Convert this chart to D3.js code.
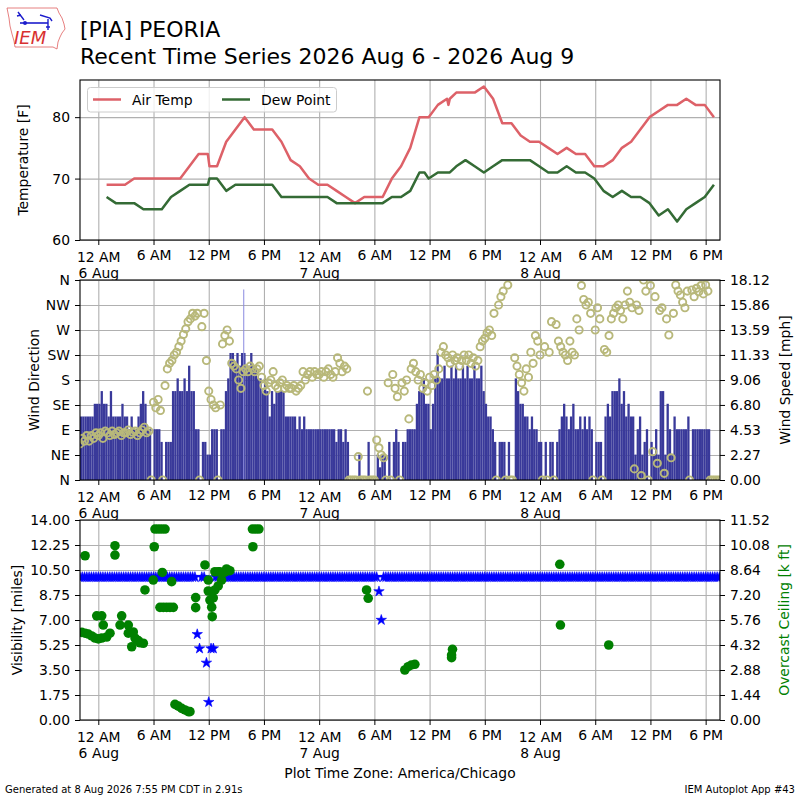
<!DOCTYPE html>
<html>
<head>
<meta charset="utf-8">
<script src="https://cdn.jsdelivr.net/npm/d3@7/dist/d3.min.js"></script>
<style>
  body { margin: 0; background: #fff; }
  svg text { font-family: "DejaVu Sans", sans-serif; }
</style>
</head>
<body>
<svg id="chart" width="800" height="800"></svg>
<script>
// all times are hours after 6 Aug 2026 00:00 CDT

// hourly METAR obs at :54, plus a few specials
const metarHours = d3.range(0.9, 67, 1);
const airTemp = [69, 69, 69, 70, 70, 70, 70, 70, 70, 72, 74, 74, 72, 76, 78, 80, 78, 78, 78, 76, 73, 72, 70, 69,
                 69, 68, 67, 66, 67, 67, 67, 70, 72, 75, 80, 80, 82, 83, 84, 84, 84, 85, 83, 79, 79, 77, 76, 76,
                 75, 74, 75, 74, 74, 72, 72, 73, 75, 76, 78, 80, 81, 82, 82, 83, 82, 82, 80];
const dewPoint = [67, 66, 66, 66, 65, 65, 65, 67, 68, 69, 69, 69, 70, 68, 69, 69, 69, 69, 69, 67, 67, 67, 67, 67,
                  67, 66, 66, 66, 66, 66, 66, 67, 67, 68, 71, 70, 71, 71, 72, 73, 72, 71, 72, 73, 73, 73, 73, 72,
                  71, 71, 72, 71, 71, 70, 68, 67, 68, 67, 67, 66, 64, 65, 63, 65, 66, 67, 69];
const specialHours = [12.08, 35.45, 38.05, 38.2];
const specialTemp = [72, 80, 82, 83];
const specialDew = [70, 71, 71, 71];

// ASOS wind, 15 minute samples starting 5 Aug 22:00 (one row per hour)
const windStart = -2;
const windStep = 0.25;
const windSpeedKt = [
  5, 5, 5, 5,   5, 5, 6, 6,   6, 7, 6, 6,   5, 7, 5, 5,   5, 5, 6, 5,   5, 4, 5, 4,   // 22 - 03
  4, 5, 6, 7,   6, 4, 4, 0,   4, 4, 4, 3,   0, 3, 3, 3,   7, 7, 8, 7,   7, 8, 7, 9,   // 04 - 09
  7, 7, 4, 4,   0, 3, 3, 2,   2, 4, 4, 4,   0, 4, 4, 7,   8, 10, 10, 9, 10, 9, 10, 10, // 10 - 15
  9, 9, 10, 9,  9, 8, 8, 7,   8, 7, 5, 7,   6, 7, 7, 7,   7, 5, 5, 5,   5, 5, 4, 5,   // 16 - 21
  4, 5, 4, 4,   4, 4, 4, 4,   4, 4, 4, 4,   4, 4, 4, 3,   4, 4, 3, 4,   3, 0, 0, 0,   // 22 - 03
  0, 2, 0, 0,   0, 3, 0, 0,   0, 2, 1, 2,   2, 0, 3, 0,   3, 4, 3, 0,   3, 3, 4, 4,   // 04 - 09
  4, 4, 6, 7,   7, 8, 6, 6,   4, 6, 8, 10,  8, 8, 9, 8,   8, 9, 8, 9,   8, 8, 9, 8,   // 10 - 15
  9, 8, 8, 9,   8, 8, 9, 7,   6, 5, 5, 4,   3, 0, 3, 3,   3, 0, 3, 0,   0, 8, 7, 6,   // 16 - 21
  6, 5, 5, 4,   5, 4, 4, 3,   3, 0, 3, 0,   3, 3, 0, 3,   4, 5, 6, 5,   4, 5, 6, 4,   // 22 - 03
  4, 5, 4, 5,   4, 5, 4, 0,   3, 3, 3, 0,   5, 6, 5, 7,   7, 7, 8, 6,   7, 5, 6, 5,   // 04 - 09
  5, 2, 4, 5,   2, 3, 4, 0,   3, 2, 4, 2,   7, 7, 2, 6,   4, 2, 5, 4,   4, 4, 4, 4,   // 10 - 15
  5, 0, 4, 4,   4, 4, 4, 4,   4, 4, 0, 0,   0, 0, 0, null                              // 16 - 19
];
// single one-minute peak [hour, kt]
const peakWind = [[15.75, 15]];
const windDir = [
  65, 75, 70, 80,      70, 80, 75, 85,      80, 85, 75, 88,      85, 80, 88, 82,      85, 88, 80, 85,      85, 90, 82, 86,
  88, 80, 85, 90,      95, 85, 88, 0,       140, 130, 145, 125,  0, 170, 200, 210,    215, 225, 230, 240,  250, 262, 272, 285,
  290, 300, 295, 300,  0, 276, 300, 215,    160, 145, 135, 130,  0, 135, 245, 260,    270, 250, 210, 205,  200, 180, 165, 195,
  200, 195, 205, 200,  195, 200, 205, 185,  170, 160, 175, 180,  195, 170, 165, 175,  180, 165, 170, 165,  165, 170, 160, 165,
  170, 195, 180, 190,  195, 185, 195, 190,  190, 195, 185, 195,  200, 190, 185, 195,  220, 210, 195, 205,  200, 0, 0, 0,
  0, 42, 0, 0,         0, 160, 0, 0,        0, 72, 58, 45,       40, 0, 175, 0,       190, 165, 150, 0,    175, 160, 180, 110,
  200, 210, 195, 180,  190, 165, 175, 160,  185, 170, 190, 180,  200, 230, 240, 225,  220, 210, 225, 215,  220, 205, 215, 225,
  215, 225, 210, 220,  205, 215, 240, 250,  255, 265, 270, 260,  300, 0, 315, 330,    340, 0, 351, 0,      0, 220, 205, 190,
  175, 160, 200, 185,  230, 210, 260, 250,  225, 0, 240, 0,      230, 285, 0, 280,    250, 240, 230, 225,  215, 250, 230, 225,
  290, 270, 350, 325,  315, 320, 300, 0,    270, 310, 290, 0,    235, 230, 260, 290,  300, 310, 315, 305,  290, 315, 340, 320,
  310, 20, 315, 305,   8, 360, 340, 0,      350, 51, 330, 30,    305, 310, 12, 290,   261, 40, 300, 351,   340, 333, 320, 310,
  340, 0, 342, 330,    345, 339, 350, 335,  351, 340, 0, 0,      0, 0, 0, null
];

// visibility [miles], same 15 minute samples
const visMiles = [
  10, 10, 10, 10,  10, 10, 10, 10,  10, 10, 10, 10,  10, 10, 10, 10,  10, 10, 10, 10,  10, 10, 10, 10,
  10, 10, 10, 10,  10, 10, 10, 10,  10, 10, 10, 10,  10, 10, 10, 10,  10, 10, 10, 10,  10, 10, 10, 10,
  10, 10, 10, 6,   5, 10, 10, 4,    1.25, 5, 5, 10,  10, 10, 10, 10,  10, 10, 10, 10,  10, 10, 10, 10,
  10, 10, 10, 10,  10, 10, 10, 10,  10, 10, 10, 10,  10, 10, 10, 10,  10, 10, 10, 10,  10, 10, 10, 10,
  10, 10, 10, 10,  10, 10, 10, 10,  10, 10, 10, 10,  10, 10, 10, 10,  10, 10, 10, 10,  10, 10, 10, 10,
  10, 10, 10, 10,  10, 10, 10, 10,  10, 10, 9, 7,    10, 10, 10, 10,  10, 10, 10, 10,  10, 10, 10, 10,
  10, 10, 10, 10,  10, 10, 10, 10,  10, 10, 10, 10,  10, 10, 10, 10,  10, 10, 10, 10,  10, 10, 10, 10,
  10, 10, 10, 10,  10, 10, 10, 10,  10, 10, 10, 10,  10, 10, 10, 10,  10, 10, 10, 10,  10, 10, 10, 10,
  10, 10, 10, 10,  10, 10, 10, 10,  10, 10, 10, 10,  10, 10, 10, 10,  10, 10, 10, 10,  10, 10, 10, 10,
  10, 10, 10, 10,  10, 10, 10, 10,  10, 10, 10, 10,  10, 10, 10, 10,  10, 10, 10, 10,  10, 10, 10, 10,
  10, 10, 10, 10,  10, 10, 10, 10,  10, 10, 10, 10,  10, 10, 10, 10,  10, 10, 10, 10,  10, 10, 10, 10,
  10, 10, 10, 10,  10, 10, 10, 10,  10, 10, 10, 10,  10, 10, 10, null
];

// overcast ceiling reports [hour, k ft]
const ceilingObs = [
  [-1.8, 5.05], [-1.44, 9.46], [-1.44, 5.0], [-1.09, 4.95], [-0.72, 4.84], [-0.36, 4.72], [-0.17, 6.0], [0, 4.67],
  [0.37, 6.0], [0.37, 4.72], [0.54, 5.47], [0.91, 4.78], [1.27, 5.0], [1.81, 10.04], [1.81, 9.5], [2.36, 5.47],
  [2.54, 6.0], [3.26, 5.47], [3.26, 5.0], [3.63, 4.22], [3.8, 5.07], [3.99, 4.72], [4.15, 4.61], [4.34, 4.57],
  [4.53, 4.45], [4.89, 4.42], [5.07, 7.49], [5.97, 8.06], [6.08, 9.98], [6.16, 11.0], [6.52, 11.0], [6.88, 11.0],
  [7.25, 11.0], [6.95, 8.5], [6.7, 6.49], [7.06, 6.49], [7.43, 6.49], [7.79, 6.49], [8.15, 6.49], [7.97, 7.97],
  [8.33, 0.9], [8.69, 0.8], [9.06, 0.67], [9.42, 0.58], [9.78, 0.48], [9.96, 0.48], [10.58, 7.05], [10.58, 6.47],
  [11.59, 8.93], [11.95, 8.06], [11.95, 7.43], [12.13, 6.91], [12.32, 6.5], [12.38, 5.95], [12.49, 7.03], [12.67, 7.49],
  [12.67, 8.54], [13.03, 7.72], [13.03, 8.54], [13.2, 8.54], [13.4, 8.06], [13.76, 8.52], [13.94, 8.7], [14.3, 8.6],
  [16.75, 11.0], [17.1, 11.0], [17.45, 11.0], [16.8, 9.98],
  [29.15, 7.49], [29.33, 7.01], [33.31, 2.88], [33.67, 3.07], [34.04, 3.17], [34.4, 3.21],
  [38.39, 3.59], [38.39, 3.74], [38.49, 4.07], [50.15, 8.97], [50.22, 5.47], [55.47, 4.32]
];

// axis ticks
const xTickHours = [0, 6, 12, 18, 24, 30, 36, 42, 48, 54, 60, 66];
const xTickLabels = ["12 AM", "6 AM", "12 PM", "6 PM", "12 AM", "6 AM", "12 PM", "6 PM", "12 AM", "6 AM", "12 PM", "6 PM"];
const xTickDays = ["6 Aug", "", "", "", "7 Aug", "", "", "", "8 Aug", "", "", ""];
const tempTicks = [60, 70, 80];
const dirTicks = [0, 45, 90, 135, 180, 225, 270, 315, 360];
const dirLabels = ["N", "NE", "E", "SE", "S", "SW", "W", "NW", "N"];
const speedTicks = [0.00, 2.27, 4.53, 6.80, 9.06, 11.33, 13.59, 15.86, 18.12];
const visTicks = [0.00, 1.75, 3.50, 5.25, 7.00, 8.75, 10.50, 12.25, 14.00];
const ceilTicks = [0.00, 1.44, 2.88, 4.32, 5.76, 7.20, 8.64, 10.08, 11.52];

// ---- drawing ----
const svg = d3.select("#chart");
const FONT = 13.9;
const x = d3.scaleLinear().domain([-1.99, 67.56]).range([80, 720]);
const panels = [{ top: 80, bottom: 240 }, { top: 280, bottom: 480 }, { top: 520, bottom: 720 }];

const yTemp = d3.scaleLinear().domain([60, 86.05]).range([240, 80]);
const yDir = d3.scaleLinear().domain([0, 360]).range([480, 280]);
const ySpeed = d3.scaleLinear().domain([0, 18.12]).range([480, 280]);
const yVis = d3.scaleLinear().domain([0, 14]).range([720, 520]);
const yCeil = d3.scaleLinear().domain([0, 11.52]).range([720, 520]);
const KT2MPH = 1.15078;

const defs = svg.append("defs");
panels.forEach((p, i) => {
  defs.append("clipPath").attr("id", "clip" + i)
    .append("rect").attr("x", 80).attr("y", p.top).attr("width", 640).attr("height", p.bottom - p.top);
});

function styleAxis(g) {
  g.attr("font-size", FONT).attr("font-family", "DejaVu Sans");
  g.select(".domain").remove();
  g.selectAll(".tick line").attr("stroke", "#000").attr("stroke-width", 1);
  g.selectAll(".tick text").attr("fill", "#000");
}

function drawGrid(p, yScale, yTicks) {
  const h = p.bottom - p.top;
  const gx = svg.append("g").attr("transform", `translate(0,${p.bottom})`)
    .call(d3.axisBottom(x).tickValues(xTickHours).tickSize(-h).tickFormat(""));
  const gy = svg.append("g").attr("transform", "translate(80,0)")
    .call(d3.axisLeft(yScale).tickValues(yTicks).tickSize(-640).tickFormat(""));
  [gx, gy].forEach(g => {
    g.select(".domain").remove();
    g.selectAll(".tick line").attr("stroke", "#b0b0b0").attr("stroke-width", 1.1);
  });
}

function drawXAxis(p) {
  const g = svg.append("g").attr("transform", `translate(0,${p.bottom})`)
    .call(d3.axisBottom(x).tickValues(xTickHours).tickSize(5).tickPadding(5).tickFormat((d, i) => xTickLabels[i]));
  styleAxis(g);
  g.selectAll(".tick text").each(function (d, i) {
    if (!xTickDays[i]) return;
    const t = d3.select(this).text(null).attr("dy", null);
    t.append("tspan").attr("x", 0).attr("dy", 12).text(xTickLabels[i]);
    t.append("tspan").attr("x", 0).attr("dy", 15.5).text(xTickDays[i]);
  });
}

function drawYAxis(scale, ticks, fmt, side) {
  const axis = side === "left" ? d3.axisLeft(scale) : d3.axisRight(scale);
  const g = svg.append("g").attr("transform", `translate(${side === "left" ? 80 : 720},0)`)
    .call(axis.tickValues(ticks).tickSize(5).tickPadding(5).tickFormat(fmt));
  styleAxis(g);
}

function frame(p) {
  svg.append("rect").attr("x", 80).attr("y", p.top).attr("width", 640).attr("height", p.bottom - p.top)
    .attr("fill", "none").attr("stroke", "#000").attr("stroke-width", 1.1);
}

function yLabel(text, cx, cy, color) {
  svg.append("text").attr("transform", `translate(${cx},${cy}) rotate(-90)`)
    .attr("text-anchor", "middle").attr("dominant-baseline", "central")
    .attr("font-size", FONT).attr("fill", color || "#000").text(text);
}

// panel 1: temperature
const p1 = panels[0];
drawGrid(p1, yTemp, tempTicks);
const obs = metarHours.map((h, i) => ({ h, t: airTemp[i], d: dewPoint[i] }))
  .concat(specialHours.map((h, i) => ({ h, t: specialTemp[i], d: specialDew[i] })))
  .sort((a, b) => a.h - b.h);
const tempG = svg.append("g").attr("clip-path", "url(#clip0)");
tempG.append("path").datum(obs)
  .attr("d", d3.line().x(d => x(d.h)).y(d => yTemp(d.t)))
  .attr("fill", "none").attr("stroke", "#dd6168").attr("stroke-width", 2.5).attr("stroke-linejoin", "round");
tempG.append("path").datum(obs)
  .attr("d", d3.line().x(d => x(d.h)).y(d => yTemp(d.d)))
  .attr("fill", "none").attr("stroke", "#346b35").attr("stroke-width", 2.5).attr("stroke-linejoin", "round");
frame(p1);
drawXAxis(p1);
drawYAxis(yTemp, tempTicks, d => d, "left");
yLabel("Temperature [F]", 23, 160);

// legend
const leg = svg.append("g");
leg.append("rect").attr("x", 87.5).attr("y", 87.5).attr("width", 249).attr("height", 24.5).attr("rx", 3)
  .attr("fill", "#fff").attr("fill-opacity", 0.8).attr("stroke", "#cccccc");
[["Air Temp", "#dd6168", 93], ["Dew Point", "#346b35", 222]].forEach(([name, color, lx]) => {
  leg.append("line").attr("x1", lx).attr("x2", lx + 28).attr("y1", 99.5).attr("y2", 99.5)
    .attr("stroke", color).attr("stroke-width", 2.5);
  leg.append("text").attr("x", lx + 39).attr("y", 99.5).attr("dominant-baseline", "central")
    .attr("font-size", FONT).text(name);
});

// panel 2: wind
const p2 = panels[1];
drawGrid(p2, yDir, dirTicks);
const wind = windSpeedKt.map((s, i) => ({ h: windStart + i * windStep, s, d: windDir[i] }));
const barW = x(windStep) - x(0);
const windG = svg.append("g").attr("clip-path", "url(#clip1)");
windG.selectAll("rect.spd").data(wind.filter(d => d.s)).join("rect")
  .attr("class", "spd")
  .attr("x", d => x(d.h))
  .attr("y", d => ySpeed(d.s * KT2MPH))
  .attr("width", barW)
  .attr("height", d => 480 - ySpeed(d.s * KT2MPH))
  .attr("fill", "#39399a");
windG.selectAll("rect.peak").data(peakWind).join("rect")
  .attr("class", "peak")
  .attr("x", d => x(d[0]))
  .attr("y", d => ySpeed(d[1] * KT2MPH))
  .attr("width", 1)
  .attr("height", d => 480 - ySpeed(d[1] * KT2MPH))
  .attr("fill", "#8a8ae0");
windG.selectAll("circle.dir").data(wind.filter(d => d.d !== null)).join("circle")
  .attr("class", "dir")
  .attr("cx", d => x(d.h))
  .attr("cy", d => yDir(d.d))
  .attr("r", 3.6)
  .attr("fill", "none").attr("stroke", "#b8b87a").attr("stroke-width", 1.9);
frame(p2);
drawXAxis(p2);
drawYAxis(yDir, dirTicks, (d, i) => dirLabels[i], "left");
drawYAxis(ySpeed, speedTicks, d => d.toFixed(2), "right");
yLabel("Wind Direction", 34, 380);
yLabel("Wind Speed [mph]", 785, 380);

// panel 3: visibility and ceiling
const p3 = panels[2];
drawGrid(p3, yVis, visTicks);
const visG = svg.append("g").attr("clip-path", "url(#clip2)");
const star = d3.symbol(d3.symbolStar, 34);
visG.selectAll("path.vis").data(visMiles.map((v, i) => ({ h: windStart + i * windStep, v })).filter(d => d.v !== null))
  .join("path").attr("class", "vis")
  .attr("transform", d => `translate(${x(d.h)},${yVis(d.v)})`)
  .attr("d", star).attr("fill", "#0000ff").attr("stroke", "#0000ff").attr("stroke-width", 0.6);
visG.selectAll("circle.ceil").data(ceilingObs).join("circle")
  .attr("class", "ceil")
  .attr("cx", d => x(d[0]))
  .attr("cy", d => yCeil(d[1]))
  .attr("r", 4.8).attr("fill", "#008000");
frame(p3);
drawXAxis(p3);
drawYAxis(yVis, visTicks, d => d.toFixed(2), "left");
drawYAxis(yCeil, ceilTicks, d => d.toFixed(2), "right");
yLabel("Visibility [miles]", 17, 620);
yLabel("Overcast Ceiling [k ft]", 784, 620, "#008000");

// titles and footer
svg.append("text").attr("x", 80).attr("y", 37).attr("font-size", 22).text("[PIA] PEORIA");
svg.append("text").attr("x", 80).attr("y", 64).attr("font-size", 22).text("Recent Time Series 2026 Aug 6 - 2026 Aug 9");
svg.append("text").attr("x", 400).attr("y", 778).attr("text-anchor", "middle").attr("font-size", FONT)
  .text("Plot Time Zone: America/Chicago");
svg.append("text").attr("x", 5).attr("y", 793).attr("font-size", 10)
  .text("Generated at 8 Aug 2026 7:55 PM CDT in 2.91s");
svg.append("text").attr("x", 795).attr("y", 793).attr("text-anchor", "end").attr("font-size", 10)
  .text("IEM Autoplot App #43");

// IEM logo
const logo = svg.append("g");
logo.append("path")
  .attr("d", "M7,8 L57,8 L59,13 L62,18 L64,24 L65,29 L62,33 L60,37 L58,42 L57,49 L53,47 L15,47 L14,41 L12,34 L10,26 L9,18 Z")
  .attr("fill", "none").attr("stroke", "#e06060").attr("stroke-width", 0.8);
logo.append("line").attr("x1", 20).attr("x2", 48).attr("y1", 23).attr("y2", 23).attr("stroke", "#1c1ccc").attr("stroke-width", 1.6);
logo.append("circle").attr("cx", 25).attr("cy", 23).attr("r", 2).attr("fill", "#1c1ccc");
logo.append("path").attr("d", "M18,12 L24,20 M17,16 L21,15 M40,15 L50,18 L52,21 M48,19 L48,30 M46,27 L50,27")
  .attr("fill", "none").attr("stroke", "#1c1ccc").attr("stroke-width", 1.4);
logo.append("text").attr("x", 14).attr("y", 44).attr("font-family", "Liberation Serif, serif")
  .attr("font-style", "italic").attr("font-size", 18).attr("fill", "#d83030").text("IEM");
</script>
</body>
</html>
